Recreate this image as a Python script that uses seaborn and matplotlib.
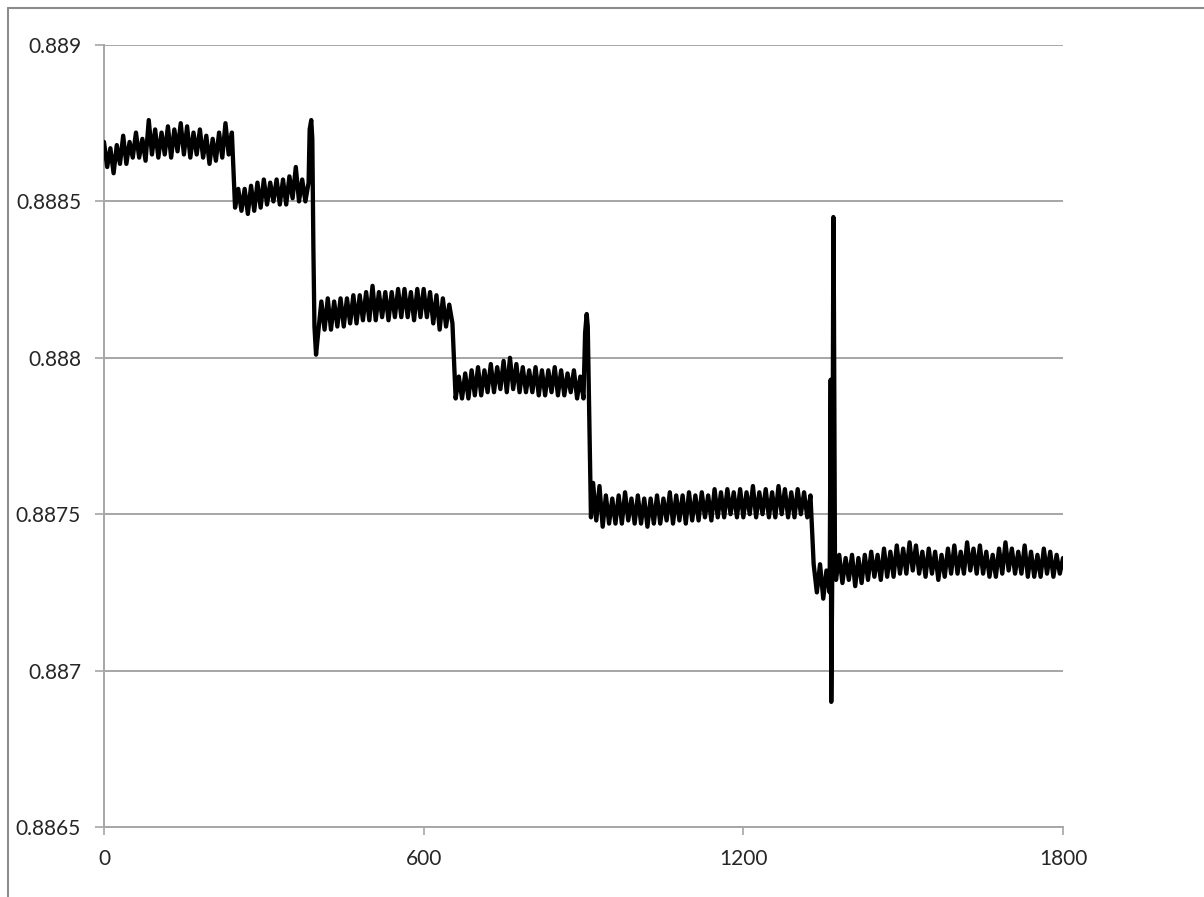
import numpy as np
import matplotlib
matplotlib.use("Agg")
import matplotlib.pyplot as plt
from matplotlib.lines import Line2D
import seaborn as sns
import pandas as pd

# ---- data (time in s, value) ----
STEP = 6

seg1_start = 0
seg1 = [0.88869, 0.88861, 0.88867, 0.88859, 0.88868, 0.88862, 0.88871, 0.88862, 0.88869, 0.88864,
        0.88872, 0.88864, 0.88870, 0.88863, 0.88876, 0.88865, 0.88873, 0.88864, 0.88872, 0.88865,
        0.88874, 0.88864, 0.88873, 0.88866, 0.88875, 0.88865, 0.88874, 0.88864, 0.88872, 0.88865,
        0.88873, 0.88864, 0.88871, 0.88862, 0.88870, 0.88863, 0.88872, 0.88864, 0.88875, 0.88865,
        0.88872]

seg2_start = 246
seg2 = [0.88848, 0.88854, 0.88847, 0.88854, 0.88846, 0.88855, 0.88847, 0.88856, 0.88848, 0.88857,
        0.88849, 0.88856, 0.88850, 0.88857, 0.88849, 0.88857, 0.88849, 0.88858, 0.88851, 0.88861,
        0.88850, 0.88857, 0.88850, 0.88856]

spike1_t = [386, 389, 391, 393, 395, 398]
spike1 = [0.88873, 0.88876, 0.88870, 0.88835, 0.88810, 0.88801]

seg3_start = 402
seg3 = [0.88808, 0.88818, 0.88809, 0.88819, 0.88809, 0.88818, 0.88810, 0.88819, 0.88810, 0.88819,
        0.88811, 0.88820, 0.88811, 0.88820, 0.88812, 0.88821, 0.88812, 0.88823, 0.88812, 0.88821,
        0.88813, 0.88821, 0.88812, 0.88821, 0.88813, 0.88822, 0.88813, 0.88822, 0.88813, 0.88821,
        0.88812, 0.88822, 0.88813, 0.88822, 0.88813, 0.88821, 0.88811, 0.88820, 0.88809, 0.88819,
        0.88810, 0.88817, 0.88811]

seg4_start = 660
seg4 = [0.88787, 0.88794, 0.88787, 0.88795, 0.88787, 0.88796, 0.88788, 0.88797, 0.88788, 0.88796,
        0.88789, 0.88798, 0.88789, 0.88797, 0.88790, 0.88799, 0.88789, 0.88800, 0.88790, 0.88798,
        0.88789, 0.88797, 0.88789, 0.88796, 0.88789, 0.88797, 0.88788, 0.88796, 0.88788, 0.88796,
        0.88789, 0.88797, 0.88788, 0.88796, 0.88788, 0.88795, 0.88789, 0.88796, 0.88787, 0.88794,
        0.88787]

spike2_t = [903, 906, 908, 911, 914]
spike2 = [0.88808, 0.88814, 0.88810, 0.88780, 0.88749]

seg5_start = 918
seg5 = [0.88760, 0.88748, 0.88759, 0.88746, 0.88756, 0.88747, 0.88755, 0.88747, 0.88756, 0.88747,
        0.88757, 0.88748, 0.88755, 0.88747, 0.88756, 0.88747, 0.88755, 0.88746, 0.88755, 0.88747,
        0.88756, 0.88747, 0.88755, 0.88748, 0.88757, 0.88747, 0.88756, 0.88748, 0.88756, 0.88747,
        0.88757, 0.88748, 0.88756, 0.88748, 0.88757, 0.88749, 0.88756, 0.88748, 0.88758, 0.88749,
        0.88757, 0.88749, 0.88758, 0.88750, 0.88757, 0.88749, 0.88758, 0.88749, 0.88757, 0.88750,
        0.88759, 0.88749, 0.88757, 0.88750, 0.88758, 0.88749, 0.88757, 0.88749, 0.88759, 0.88750,
        0.88758, 0.88749, 0.88757, 0.88749, 0.88758, 0.88750, 0.88757, 0.88749, 0.88756]

seg6_start = 1332
seg6 = [0.88734, 0.88725, 0.88734, 0.88723, 0.88732, 0.88725]

spike3_t = [1364, 1365, 1367, 1369, 1370, 1372]
spike3 = [0.88793, 0.88690, 0.88733, 0.88845, 0.88819, 0.88734]

seg7_start = 1374
seg7 = [0.88729, 0.88737, 0.88728, 0.88736, 0.88729, 0.88737, 0.88727, 0.88736, 0.88728, 0.88737,
        0.88729, 0.88738, 0.88730, 0.88737, 0.88729, 0.88739, 0.88730, 0.88738, 0.88730, 0.88740,
        0.88731, 0.88739, 0.88731, 0.88741, 0.88732, 0.88740, 0.88731, 0.88738, 0.88730, 0.88739,
        0.88731, 0.88738, 0.88729, 0.88737, 0.88730, 0.88739, 0.88731, 0.88740, 0.88731, 0.88738,
        0.88731, 0.88741, 0.88732, 0.88739, 0.88731, 0.88740, 0.88731, 0.88738, 0.88730, 0.88737,
        0.88730, 0.88739, 0.88731, 0.88741, 0.88732, 0.88739, 0.88731, 0.88738, 0.88731, 0.88740,
        0.88730, 0.88738, 0.88730, 0.88737, 0.88730, 0.88739, 0.88731, 0.88738, 0.88730, 0.88737,
        0.88731, 0.88736]

x_ticks = [0, 600, 1200, 1800]
x_labels = ["0", "600", "1200", "1800"]
y_ticks = [0.8865, 0.887, 0.8875, 0.888, 0.8885, 0.889]
y_labels = ["0.8865", "0.887", "0.8875", "0.888", "0.8885", "0.889"]


def seg_times(start, vals):
    return list(start + STEP * np.arange(len(vals)))


t_all, v_all = [], []
for tt, vv in [(seg_times(seg1_start, seg1), seg1),
               (seg_times(seg2_start, seg2), seg2),
               (spike1_t, spike1),
               (seg_times(seg3_start, seg3), seg3),
               (seg_times(seg4_start, seg4), seg4),
               (spike2_t, spike2),
               (seg_times(seg5_start, seg5), seg5),
               (seg_times(seg6_start, seg6), seg6),
               (spike3_t, spike3),
               (seg_times(seg7_start, seg7), seg7)]:
    t_all += list(tt)
    v_all += list(vv)

df = pd.DataFrame({"t": t_all, "v": v_all})
df = df[df["t"] <= 1800]

sns.set_style("white")
plt.rcParams["font.family"] = ["Lato", "DejaVu Sans"]

fig = plt.figure(figsize=(12.04, 8.97), dpi=100)
W, H = 1204, 897
ax = fig.add_axes([104 / W, 1 - 827 / H, (1063 - 104) / W, (827 - 45) / H])

grid_c = "#a6a6a6"
sns.lineplot(data=df, x="t", y="v", ax=ax, color="black", linewidth=3.1,
             estimator=None, sort=False, zorder=3,
             solid_joinstyle="round", solid_capstyle="round")

ax.set_xlim(0, 1800)
ax.set_ylim(0.8865, 0.889)
ax.set_xticks(x_ticks)
ax.set_xticklabels(x_labels)
ax.set_yticks(y_ticks)
ax.set_yticklabels(y_labels)
ax.set_xlabel("")
ax.set_ylabel("")

ax.yaxis.grid(True, color=grid_c, linewidth=1.4)
ax.xaxis.grid(False)
ax.set_axisbelow(True)
for s in ["top", "right"]:
    ax.spines[s].set_visible(False)
for s in ["left", "bottom"]:
    ax.spines[s].set_color(grid_c)
    ax.spines[s].set_linewidth(1.4)

ax.tick_params(axis="y", which="major", direction="out", length=6.5, width=1.2,
               color=grid_c, pad=10, labelsize=15, labelcolor="#262626", left=True)
ax.tick_params(axis="x", which="major", direction="out", length=6, width=1.2,
               color=grid_c, pad=10, labelsize=15, labelcolor="#262626", bottom=True)

# outer chart-area border (top and left edges visible)
fig.add_artist(Line2D([8 / W, 8 / W], [0, 1 - 8 / H], transform=fig.transFigure,
                      color="#8c8c8c", linewidth=1.5))
fig.add_artist(Line2D([8 / W, 1], [1 - 8 / H, 1 - 8 / H], transform=fig.transFigure,
                      color="#8c8c8c", linewidth=1.5))

fig.savefig("out.png", dpi=100, facecolor="white")
